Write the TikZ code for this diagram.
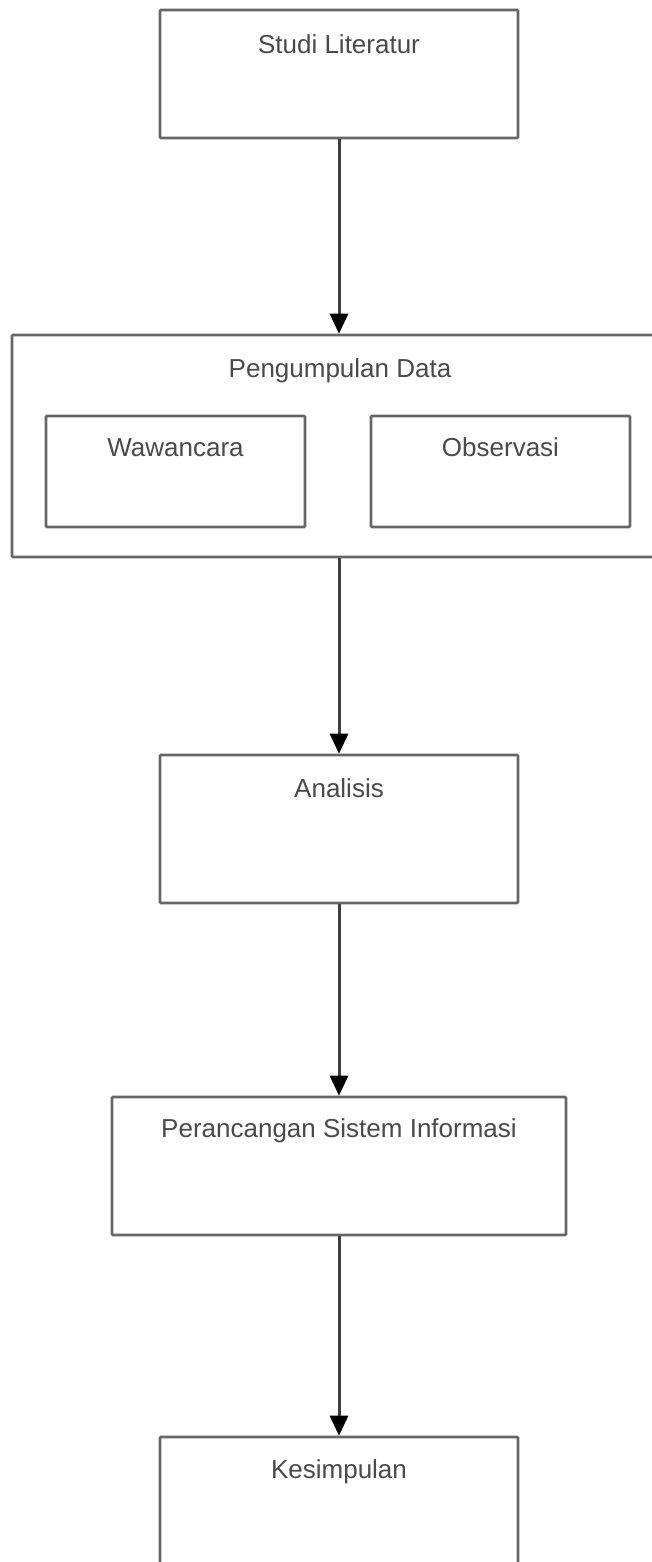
\documentclass[tikz,border=0pt]{standalone}
\usepackage{fontspec}
\setmainfont{Liberation Sans}
\usetikzlibrary{arrows.meta}
\definecolor{boxline}{HTML}{666666}
\definecolor{arrline}{HTML}{404040}
\definecolor{txt}{HTML}{4A4A4A}
\tikzset{
  stagebox/.style={draw=boxline, line width=2.6pt, rectangle, inner sep=0pt, rounded corners=1pt},
  lbl/.style={anchor=base, font=\fontsize{26}{30}\selectfont, text=txt, inner sep=0pt},
  flow/.style={draw=arrline, line width=3pt, -{Triangle[width=18pt,length=20pt,fill=black,color=black]}}
}
\begin{document}
\begin{tikzpicture}[x=1pt,y=-1pt]
\useasboundingbox (0,0) rectangle (652,1562);
\clip (0,0) rectangle (652,1562);
\fill[white] (0,0) rectangle (652,1562);
% boxes
\node[stagebox, minimum width=358pt, minimum height=128pt] (studi) at (339,74) {};
\node[stagebox, minimum width=656pt, minimum height=222pt] (pengumpulan) at (340,446) {};
\node[stagebox, minimum width=259pt, minimum height=111pt] (wawancara) at (175.5,471.5) {};
\node[stagebox, minimum width=259pt, minimum height=111pt] (observasi) at (500.5,471.5) {};
\node[stagebox, minimum width=358pt, minimum height=148pt] (analisis) at (339,829) {};
\node[stagebox, minimum width=454pt, minimum height=138pt] (perancangan) at (339,1166) {};
\node[stagebox, minimum width=358pt, minimum height=160pt] (kesimpulan) at (339,1517) {};
% labels
\node[lbl] (tstudi) at (339,54) {Studi Literatur};
\node[lbl] (tpeng) at (340,377) {Pengumpulan Data};
\node[lbl] (twaw) at (175.5,456) {Wawancara};
\node[lbl] (tobs) at (500.5,456) {Observasi};
\node[lbl] (tana) at (339,797) {Analisis};
\node[lbl] (tper) at (339,1137) {Perancangan Sistem Informasi};
\node[lbl] (tkes) at (339,1478) {Kesimpulan};
% connectors
\draw[flow] (studi.south) -- (studi.south |- pengumpulan.north);
\draw[flow] (analisis.north |- pengumpulan.south) -- (analisis.north);
\draw[flow] (analisis.south) -- (perancangan.north);
\draw[flow] (perancangan.south) -- (kesimpulan.north);
\end{tikzpicture}
\end{document}
